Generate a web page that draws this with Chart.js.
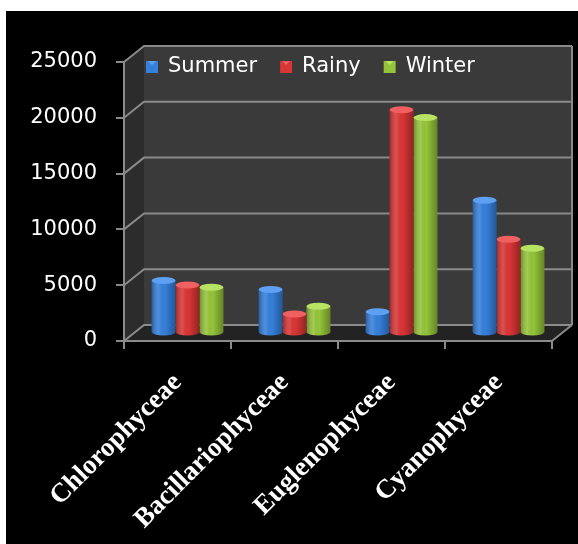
<!DOCTYPE html>
<html>
<head>
<meta charset="utf-8">
<script src="https://cdn.jsdelivr.net/npm/chart.js@4.4.1/dist/chart.umd.min.js"></script>
<style>
  html, body { margin: 0; padding: 0; background: #fff; }
  canvas { display: block; }
</style>
</head>
<body>
<canvas id="phytoChart" width="578" height="544"></canvas>
<script>
// datos
const categories = ['Chlorophyceae', 'Bacillariophyceae', 'Euglenophyceae', 'Cyanophyceae'];
const seasons = ['Summer', 'Rainy', 'Winter'];
const summerValues = [4700, 3900, 1900, 11900];
const rainyValues = [4300, 1700, 20000, 8400];
const winterValues = [4100, 2400, 19300, 7600];
const yTicks = [0, 5000, 10000, 15000, 20000, 25000];

const barColors = ['#3580db', '#d93535', '#94c43a'];
const capColors = ['#5ea0f2', '#f06060', '#b8e264'];

// desplazamiento de la pared del fondo (efecto 3D)
const DX = 20, DY = -16;

const wallPlugin = {
    id: 'walls',
    beforeDraw(chart) {
        const ctx = chart.ctx;
        const a = chart.chartArea;
        ctx.save();
        ctx.fillStyle = '#ffffff';
        ctx.fillRect(0, 0, chart.width, chart.height);
        ctx.fillStyle = '#000000';
        ctx.fillRect(6, 11, chart.width - 6, chart.height - 11);

        // pared del fondo
        ctx.fillStyle = '#3a3a3a';
        ctx.fillRect(a.left + DX, a.top + DY, a.right - a.left, a.bottom - a.top);
        // pared izquierda
        ctx.fillStyle = '#2c2c2c';
        ctx.beginPath();
        ctx.moveTo(a.left, a.top);
        ctx.lineTo(a.left + DX, a.top + DY);
        ctx.lineTo(a.left + DX, a.bottom + DY);
        ctx.lineTo(a.left, a.bottom);
        ctx.closePath();
        ctx.fill();
        // suelo
        ctx.fillStyle = '#232323';
        ctx.beginPath();
        ctx.moveTo(a.left, a.bottom);
        ctx.lineTo(a.left + DX, a.bottom + DY);
        ctx.lineTo(a.right + DX, a.bottom + DY);
        ctx.lineTo(a.right, a.bottom);
        ctx.closePath();
        ctx.fill();

        // lineas de cuadricula
        const y = chart.scales.y;
        ctx.strokeStyle = '#8a8a8a';
        ctx.lineWidth = 2;
        y.ticks.forEach(t => {
            const py = y.getPixelForValue(t.value);
            ctx.beginPath();
            ctx.moveTo(a.left, py);
            ctx.lineTo(a.left + DX, py + DY);
            ctx.lineTo(a.right + DX, py + DY);
            ctx.stroke();
        });
        ctx.beginPath();
        ctx.moveTo(a.right + DX, a.top + DY);
        ctx.lineTo(a.right + DX, a.bottom + DY);
        ctx.stroke();
        ctx.beginPath();
        ctx.moveTo(a.right, a.bottom);
        ctx.lineTo(a.right + DX, a.bottom + DY);
        ctx.stroke();
        ctx.restore();
    },
    beforeDatasetsDraw(chart) {
        chart.ctx.save();
        chart.ctx.translate(DX / 2, DY / 2);
    },
    afterDatasetsDraw(chart) {
        const ctx = chart.ctx;
        chart.data.datasets.forEach((ds, di) => {
            const meta = chart.getDatasetMeta(di);
            meta.data.forEach(el => {
                const w = el.width;
                const x0 = el.x - w / 2;
                const ry = 3.5;
                // base redondeada
                ctx.fillStyle = barColors[di];
                ctx.beginPath();
                ctx.ellipse(el.x, el.base, w / 2, ry, 0, 0, Math.PI);
                ctx.fill();
                // sombreado cilindrico
                const g = ctx.createLinearGradient(x0, 0, x0 + w, 0);
                g.addColorStop(0, 'rgba(0,0,0,0.28)');
                g.addColorStop(0.3, 'rgba(255,255,255,0.12)');
                g.addColorStop(0.55, 'rgba(0,0,0,0)');
                g.addColorStop(1, 'rgba(0,0,0,0.32)');
                ctx.fillStyle = g;
                ctx.beginPath();
                ctx.moveTo(x0, el.y);
                ctx.lineTo(x0, el.base);
                ctx.ellipse(el.x, el.base, w / 2, ry, 0, Math.PI, 0, true);
                ctx.lineTo(x0 + w, el.y);
                ctx.closePath();
                ctx.fill();
                // tapa superior
                ctx.fillStyle = capColors[di];
                ctx.beginPath();
                ctx.ellipse(el.x, el.y, w / 2, ry, 0, 0, Math.PI * 2);
                ctx.fill();
            });
        });
        ctx.restore();
    },
    afterDraw(chart) {
        // leyenda dentro del area
        const ctx = chart.ctx;
        ctx.save();
        ctx.font = '21px "DejaVu Sans"';
        ctx.textBaseline = 'middle';
        let x = 146;
        const y = 67;
        chart.data.datasets.forEach((ds, di) => {
            ctx.fillStyle = barColors[di];
            ctx.fillRect(x, y - 6, 12, 12);
            ctx.fillStyle = capColors[di];
            ctx.beginPath();
            ctx.moveTo(x + 2, y - 6);
            ctx.lineTo(x + 10, y - 6);
            ctx.lineTo(x + 6, y - 2);
            ctx.closePath();
            ctx.fill();
            ctx.fillStyle = '#ffffff';
            ctx.fillText(ds.label, x + 22, y);
            x += 22 + ctx.measureText(ds.label).width + 23;
        });
        ctx.restore();
    }
};

const ctx = document.getElementById('phytoChart').getContext('2d');
const phytoChart = new Chart(ctx, {
    type: 'bar',
    data: {
        labels: categories,
        datasets: [
            { label: seasons[0], data: summerValues, backgroundColor: barColors[0] },
            { label: seasons[1], data: rainyValues, backgroundColor: barColors[1] },
            { label: seasons[2], data: winterValues, backgroundColor: barColors[2] }
        ]
    },
    options: {
        responsive: false,
        animation: false,
        barPercentage: 1,
        categoryPercentage: 0.67,
        layout: { padding: { left: 0, right: 26, top: 62, bottom: 0 } },
        scales: {
            x: {
                afterFit: s => { s.height = 203; },
                grid: { drawOnChartArea: false, color: '#8a8a8a', lineWidth: 2, tickLength: 8 },
                border: { color: '#8a8a8a', width: 2 },
                ticks: {
                    color: '#ffffff',
                    font: { family: '"Liberation Serif"', size: 27, weight: 'bold' },
                    minRotation: 45,
                    maxRotation: 45,
                    padding: 18
                }
            },
            y: {
                min: 0,
                max: 25000,
                afterFit: s => { s.width = 124; },
                afterBuildTicks: s => { s.ticks = yTicks.map(v => ({ value: v })); },
                grid: { drawOnChartArea: false, color: '#8a8a8a', lineWidth: 2, tickLength: 8 },
                border: { color: '#8a8a8a', width: 2 },
                ticks: {
                    color: '#ffffff',
                    font: { family: '"DejaVu Sans"', size: 21 },
                    padding: 19,
                    callback: v => String(v)
                }
            }
        },
        plugins: {
            legend: { display: false },
            tooltip: { enabled: false }
        }
    },
    plugins: [wallPlugin]
});
</script>
</body>
</html>
